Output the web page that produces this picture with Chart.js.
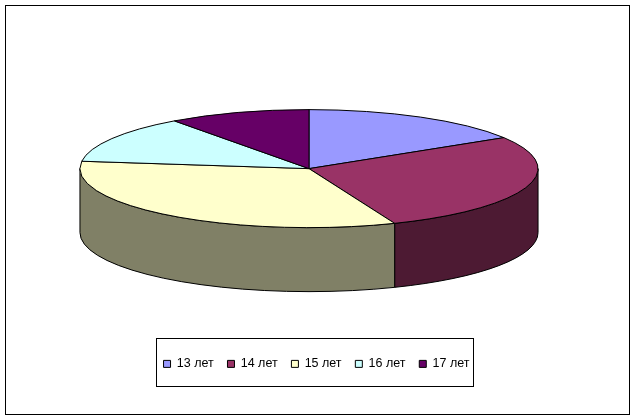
<!DOCTYPE html>
<html>
<head>
<meta charset="utf-8">
<title>Возраст</title>
<script src="https://cdn.jsdelivr.net/npm/chart.js@4"></script>
<style>
    body { margin: 0; background: #fff; }
    canvas { display: block; }
</style>
</head>
<body>
<canvas id="pieChart" width="636" height="420"></canvas>
<script>
// Chart data
const categories = ['13 лет', '14 лет', '15 лет', '16 лет', '17 лет'];
const shares = [16.2, 27.7, 33.1, 13, 10];
const topColors = ['#9999FF', '#993366', '#FFFFCC', '#CCFFFF', '#660066'];
const wallColors = ['#4D4D80', '#4D1A33', '#808066', '#668080', '#330033'];

// How the flat pie from Chart.js is tilted on screen
const squashX = 229 / 160.4;
const squashY = 59 / 160.4;
const depth = 64;

// Where the legend and its box sit
const legendCenterX = 316.5;
const legendCenterY = 362;

function strokeBlack(ctx) {
    ctx.strokeStyle = '#000';
    ctx.lineWidth = 1;
    ctx.stroke();
}

// Replaces the normal arc drawing with a tilted pie with a side wall
const tiltedPie = {
    id: 'tiltedPie',
    afterLayout(chart) {
        const legend = chart.legend;
        const dx = legendCenterX - (legend.left + legend.right) / 2;
        const dy = legendCenterY - (legend.top + legend.bottom) / 2;
        legend.left += dx;
        legend.right += dx;
        legend.top += dy;
        legend.bottom += dy;
    },
    beforeDatasetsDraw(chart) {
        const ctx = chart.ctx;
        const arcs = chart.getDatasetMeta(0).data;

        // Side wall, only the front half of the pie shows it
        arcs.forEach((arc, i) => {
            const from = Math.max(arc.startAngle, 0);
            const to = Math.min(arc.endAngle, Math.PI);
            if (from >= to) return;
            const rx = arc.outerRadius * squashX;
            const ry = arc.outerRadius * squashY;
            ctx.beginPath();
            ctx.ellipse(arc.x, arc.y, rx, ry, 0, from, to);
            ctx.ellipse(arc.x, arc.y + depth, rx, ry, 0, to, from, true);
            ctx.closePath();
            ctx.fillStyle = wallColors[i];
            ctx.fill();
            strokeBlack(ctx);
        });

        // Top face
        arcs.forEach((arc, i) => {
            const rx = arc.outerRadius * squashX;
            const ry = arc.outerRadius * squashY;
            ctx.beginPath();
            ctx.moveTo(arc.x, arc.y);
            ctx.ellipse(arc.x, arc.y, rx, ry, 0, arc.startAngle, arc.endAngle);
            ctx.closePath();
            ctx.fillStyle = topColors[i];
            ctx.fill();
            strokeBlack(ctx);
        });
        return false;
    },
    afterDraw(chart) {
        const ctx = chart.ctx;
        ctx.save();
        ctx.strokeStyle = '#000';
        ctx.lineWidth = 1;
        ctx.strokeRect(5.5, 5.5, 624, 409);
        ctx.strokeRect(156.5, 338.5, 317, 48);
        ctx.restore();
    }
};

new Chart(document.getElementById('pieChart'), {
    type: 'pie',
    data: {
        labels: categories,
        datasets: [{
            data: shares,
            backgroundColor: topColors,
            borderColor: '#000',
            borderWidth: 1
        }]
    },
    options: {
        responsive: false,
        animation: false,
        layout: { padding: { left: 0, right: 18, top: 7.7, bottom: 54.2 } },
        plugins: {
            tooltip: { enabled: false },
            legend: {
                position: 'bottom',
                labels: {
                    boxWidth: 7,
                    boxHeight: 7,
                    padding: 13.75,
                    color: '#000',
                    font: { family: '"Liberation Sans", Arial, sans-serif', size: 12.5 }
                }
            }
        }
    },
    plugins: [tiltedPie]
});
</script>
</body>
</html>
